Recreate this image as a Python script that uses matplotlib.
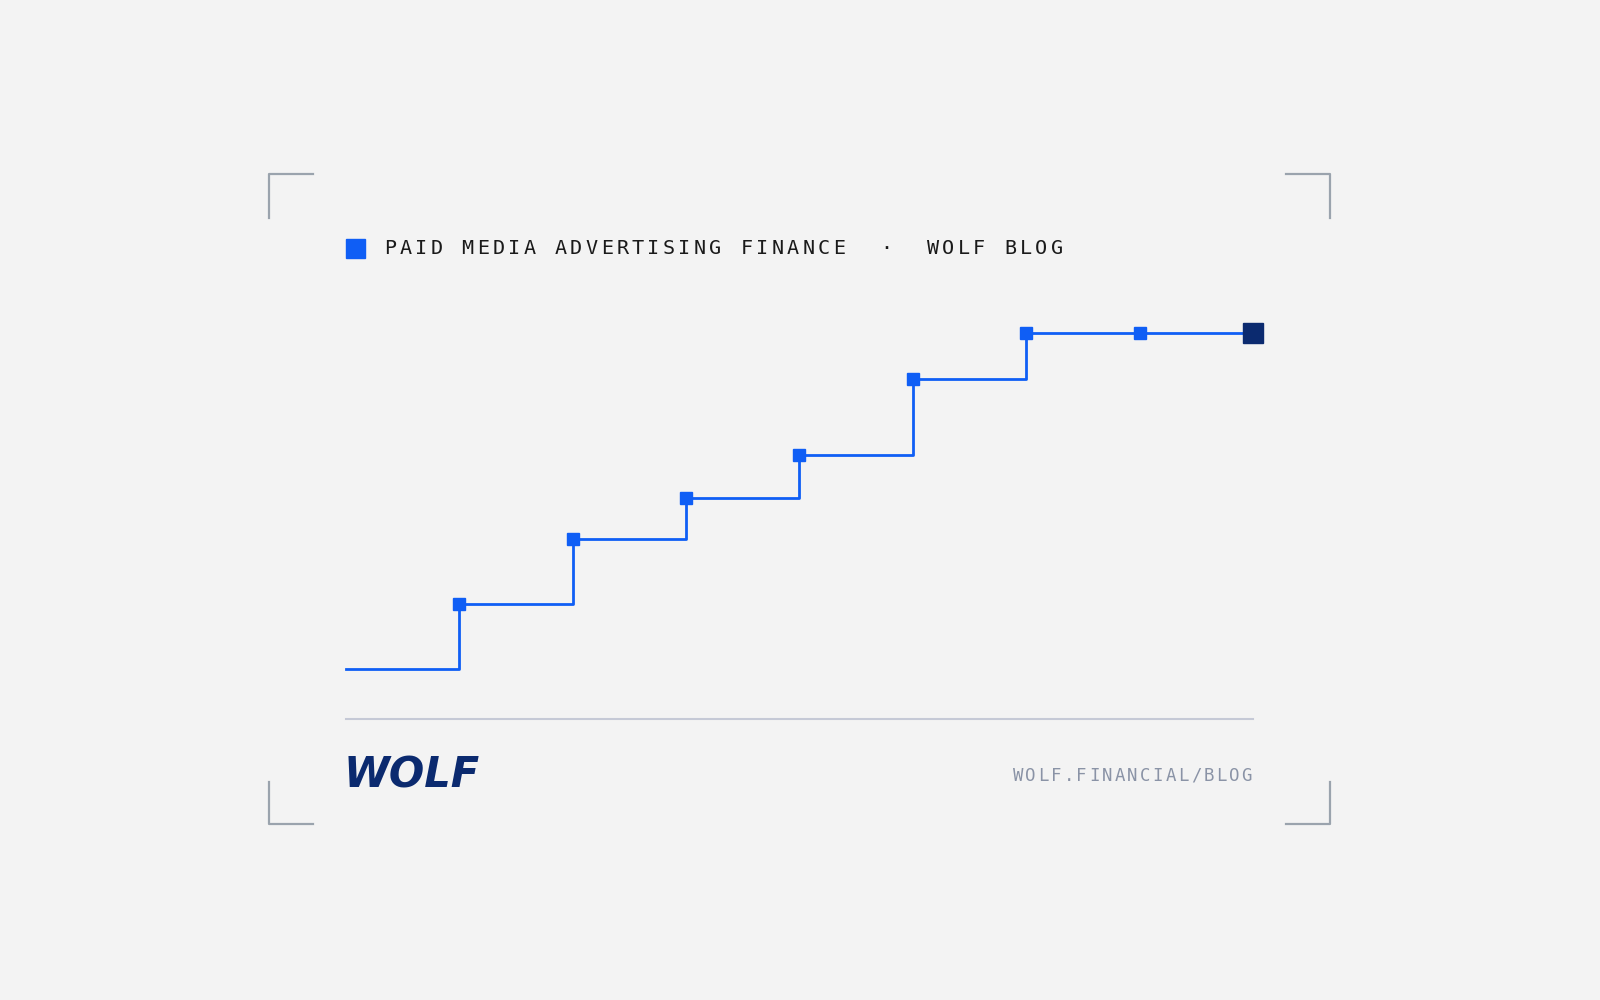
import matplotlib
matplotlib.use("Agg")
import matplotlib.pyplot as plt
from matplotlib.patches import Rectangle
from matplotlib.lines import Line2D

steps = [0, 1, 2, 3, 4, 5, 6, 7, 8]
values = [0, 64, 128, 168, 210, 285, 330, 330, 330]
title_text = "PAID MEDIA ADVERTISING FINANCE  ·  WOLF BLOG"
url_text = "WOLF.FINANCIAL/BLOG"
logo_text = "WOLF"

W, H = 1568.0, 980.0
BG = "#f3f3f3"
BLUE = "#0f5ef5"
NAVY = "#0b2a6f"

fig = plt.figure(figsize=(16, 10), dpi=100, facecolor=BG)

def fx(x): return x / W
def fy(y): return 1 - y / H

# main axes
ax = fig.add_axes([fx(339), fy(656), fx(1228) - fx(339), fy(326) - fy(656)])
ax.set_facecolor("none")
ax.set_xlim(0, 8)
ax.set_ylim(0, 330)
ax.axis("off")
ax.plot(steps, values, drawstyle="steps-post", color=BLUE, lw=2, clip_on=False)
ax.plot(steps[1:-1], values[1:-1], "s", color=BLUE, ms=9, clip_on=False)
ax.plot(steps[-1:], values[-1:], "s", color=NAVY, ms=14, clip_on=False)

# corner brackets
bc = "#9aa3ad"
for pts in [[(264, 214), (264, 171), (307, 171)],
            [(1260, 171), (1303, 171), (1303, 214)],
            [(264, 766), (264, 808), (307, 808)],
            [(1260, 808), (1303, 808), (1303, 766)]]:
    fig.add_artist(Line2D([fx(p[0]) for p in pts], [fy(p[1]) for p in pts],
                          color=bc, lw=1.6, transform=fig.transFigure))

# separator
fig.add_artist(Line2D([fx(339), fx(1228)], [fy(705), fy(705)], color="#c5c9d6",
                      lw=1.5, transform=fig.transFigure))

# title
fig.add_artist(Rectangle((fx(339), fy(253)), fx(358) - fx(339), fy(234) - fy(253),
                         color=BLUE, transform=fig.transFigure))
x0, pitch = 382, 15.2
for i, ch in enumerate(title_text):
    fig.text(fx(x0 + i * pitch), fy(244), ch, ha="center", va="center",
             family="DejaVu Sans Mono", fontsize=14.5, color="#1a1a1a")

# url (right aligned)
pitch2 = 12.45
n = len(url_text)
for i, ch in enumerate(url_text):
    fig.text(fx(1228 - (n - 1 - i) * pitch2 - pitch2 / 2), fy(760), ch, ha="center",
             va="center", family="DejaVu Sans Mono", fontsize=12.5, color="#8a93a6")

# logo
fig.text(fx(337), fy(760), logo_text, ha="left", va="center", family="DejaVu Sans",
         fontweight="heavy", style="italic", fontsize=30, color=NAVY)

fig.savefig("out.png", dpi=100, facecolor=BG)
